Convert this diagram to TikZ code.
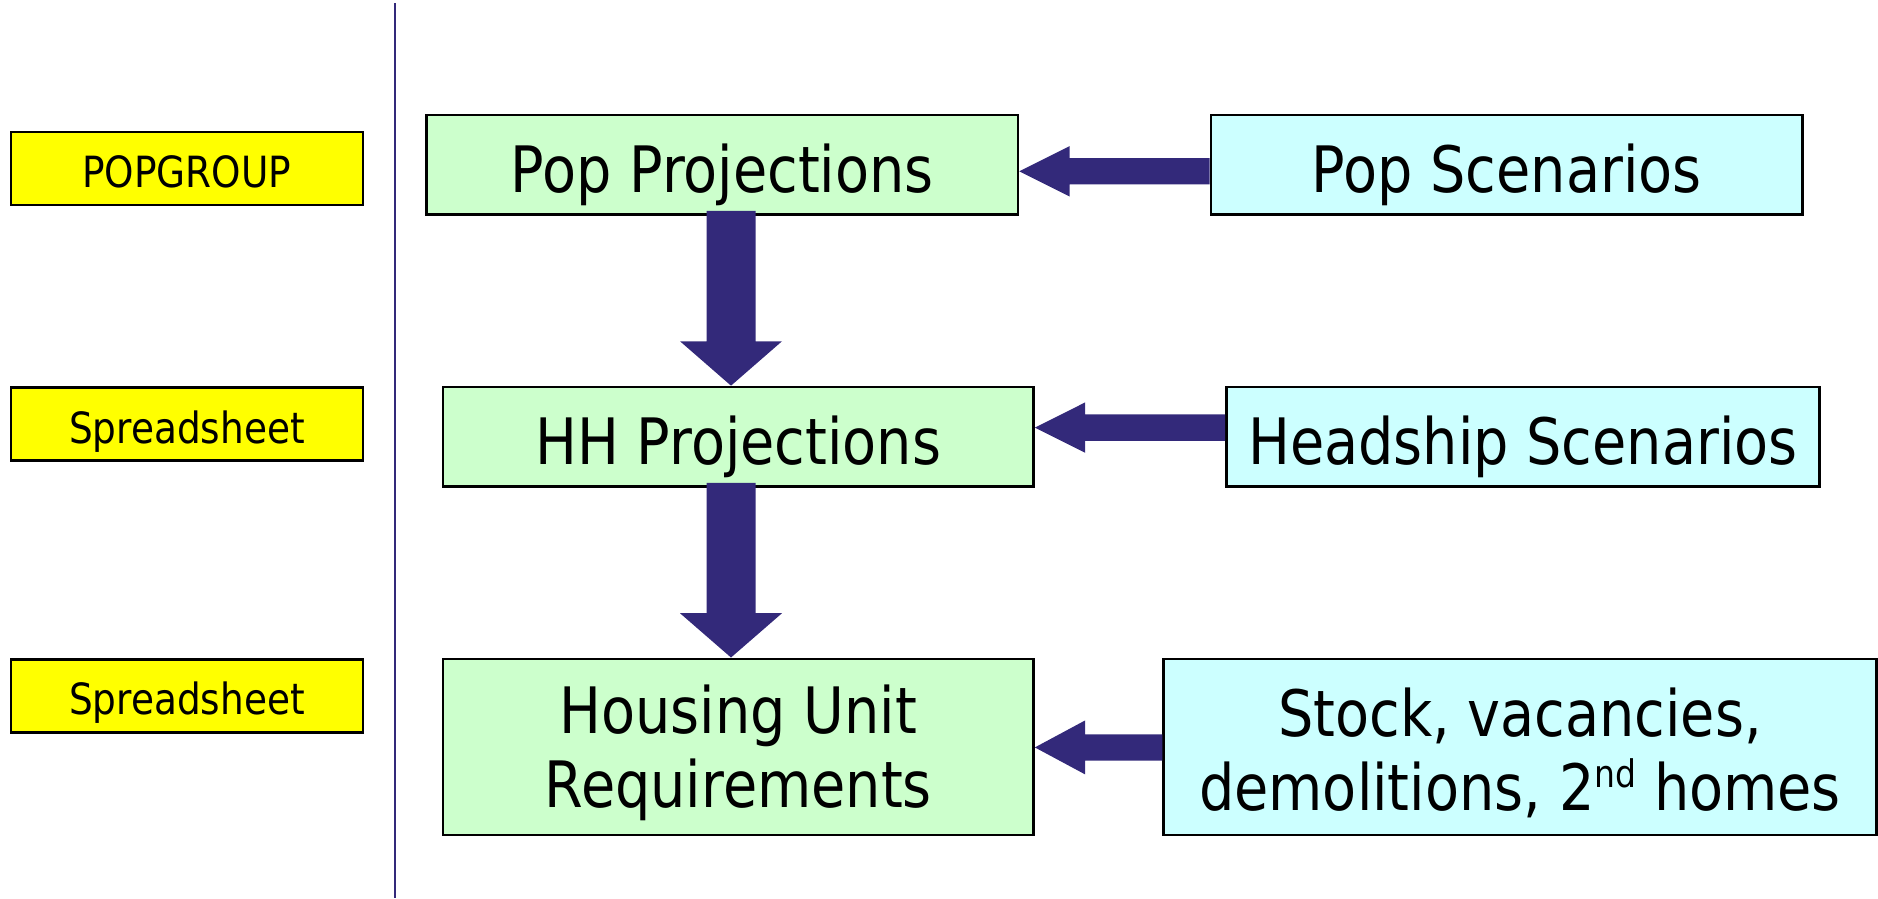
\documentclass[tikz,border=0pt]{standalone}
\usepackage{fontspec}
\setmainfont[FakeStretch=0.87]{DejaVu Sans}
\usetikzlibrary{calc}
\definecolor{navyarrow}{RGB}{51,41,122}
\definecolor{boxyellow}{RGB}{255,255,0}
\definecolor{boxgreen}{RGB}{204,255,204}
\definecolor{boxcyan}{RGB}{204,255,255}
\begin{document}
\begin{tikzpicture}[x=1pt,y=-1pt,
  tool/.style={draw=black,line width=2.5pt,fill=boxyellow,inner sep=0pt,
    minimum width=352pt,minimum height=73pt,text height=47pt,text depth=9pt,
    font=\fontsize{43}{50}\selectfont},
  boxbase/.style={draw=black,line width=2.5pt,inner sep=0pt,minimum height=99.4pt},
  stage/.style={boxbase,fill=boxgreen,text height=67pt,text depth=12pt,
    font=\fontsize{64}{74}\selectfont},
  input/.style={boxbase,fill=boxcyan,text height=67pt,text depth=12pt,
    font=\fontsize{64}{74}\selectfont},
  twoline/.style={inner sep=0pt,align=center,yshift=-6pt,font=\fontsize{64}{74}\selectfont},
  blockarrow/.style={fill=navyarrow,draw=none}]
\useasboundingbox (0,0) rectangle (1878,898);

% divider
\coordinate (vtop) at (395,3);
\coordinate (vbot) at (395,898);
\draw[navyarrow,line width=2.2pt] (vtop) -- (vbot);

% tool boxes
\node[tool] (y1) at (186.9,168.3) {POPGROUP};
\node[tool] (y2) at (186.9,424) {Spreadsheet};
\node[tool] (y3) at (186.9,695.9) {Spreadsheet};

% stages
\node[stage,minimum width=591.6pt] (pp) at (722.2,164.7) {Pop Projections};
\node[stage,minimum width=590.6pt] (hh) at (738.3,436.6) {HH Projections};
\node[boxbase,fill=boxgreen,minimum width=590.6pt,minimum height=176.1pt] (hu) at (738.3,746.8) {};
\node[twoline] (hutext) at (hu.center) {Housing Unit\\Requirements};

% inputs
\node[input,minimum width=591.6pt] (ps) at (1506.7,164.7) {Pop Scenarios};
\node[input,minimum width=592.9pt] (hs) at (1522.9,436.6) {Headship Scenarios};
\node[boxbase,fill=boxcyan,minimum width=713pt,minimum height=176.1pt] (sv) at (1520,746.8) {};
\node[twoline] (svtext) at (sv.center) {Stock, vacancies,\\demolitions, 2\raisebox{0.36em}{\fontsize{38}{40}\selectfont nd} homes};

% down arrows
\coordinate (ax) at (731,0);
\coordinate (d1) at (hh.north -| ax);
\coordinate (d1s) at (pp.south -| ax);
\fill[blockarrow] (d1) -- ++(-51,-44.4) -- ++(26.5,0) |- ($(d1s)+(-24.5,-4.8)$) -- ++(49,0) |- ($(d1)+(51,-44.4)$) -- cycle;
\coordinate (d2) at (hu.north -| ax);
\coordinate (d2s) at (hh.south -| ax);
\fill[blockarrow] (d2) -- ++(-51,-44.3) -- ++(26.5,0) |- ($(d2s)+(-24.5,-4.8)$) -- ++(49,0) |- ($(d2)+(51,-44.3)$) -- cycle;

% left arrows
\coordinate (l1) at ($(pp.east)+(0,6.6)$);
\fill[blockarrow] (l1) -- ++(50.3,-25.2) -- ++(0,12.05) -| ($(ps.west |- l1)+(0,-13.15)$) -- ++(0,26.3) -| ($(l1)+(50.3,25.2)$) -- cycle;
\coordinate (l2) at ($(hh.east)+(0,-9)$);
\fill[blockarrow] (l2) -- ++(50.3,-25.2) -- ++(0,12.05) -| ($(hs.west |- l2)+(0,-13.15)$) -- ++(0,26.3) -| ($(l2)+(50.3,25.2)$) -- cycle;
\coordinate (l3) at ($(hu.east)+(0,0.6)$);
\fill[blockarrow] (l3) -- ++(50.3,-27) -- ++(0,13.85) -| ($(sv.west |- l3)+(0,-13.15)$) -- ++(0,26.3) -| ($(l3)+(50.3,27)$) -- cycle;
\end{tikzpicture}
\end{document}
